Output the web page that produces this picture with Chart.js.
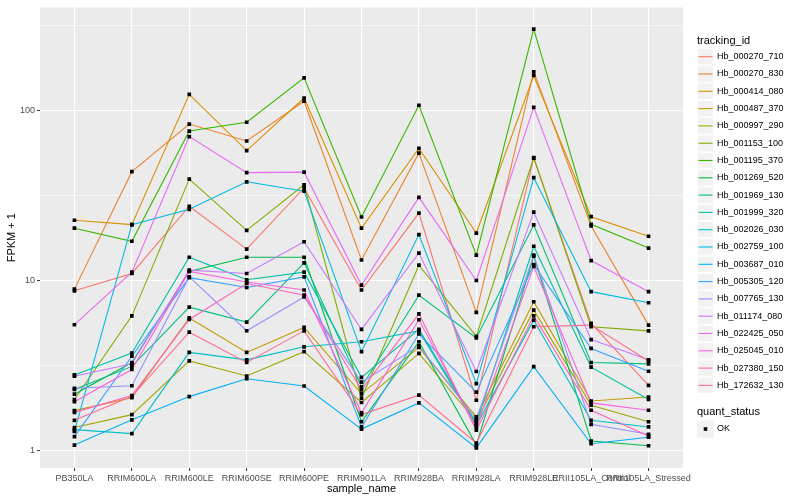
<!DOCTYPE html>
<html>
<head>
<meta charset="utf-8">
<script src="https://cdn.jsdelivr.net/npm/chart.js@4/dist/chart.umd.min.js"></script>
<style>
html,body{margin:0;padding:0;background:#fff;}
#wrap{width:800px;height:500px;position:relative;}
</style>
</head>
<body>
<div id="wrap"><canvas id="c" width="800" height="500"></canvas></div>
<script>
const categories = ['PB350LA','RRIM600LA','RRIM600LE','RRIM600SE','RRIM600PE','RRIM901LA','RRIM928BA','RRIM928LA','RRIM928LE','RRII105LA_Control','RRII105LA_Stressed'];

const seriesNames = ['Hb_000270_710','Hb_000270_830','Hb_000414_080','Hb_000487_370','Hb_000997_290','Hb_001153_100','Hb_001195_370','Hb_001269_520','Hb_001969_130','Hb_001999_320','Hb_002026_030','Hb_002759_100','Hb_003687_010','Hb_005305_120','Hb_007765_130','Hb_011174_080','Hb_022425_050','Hb_025045_010','Hb_027380_150','Hb_172632_130'];

const hb_000270_710 = [8.7, 11.0, 27.3, 15.3, 35, 8.8, 24.9, 1.98, 52.4, 5.6, 2.42];
const hb_000270_830 = [8.9, 43.6, 83, 66, 113, 13.2, 56, 6.5, 168, 20.9, 5.47];
const hb_000414_080 = [22.6, 21.3, 124, 58, 118, 20.3, 59.7, 19, 160, 23.7, 18.2];
const hb_000487_370 = [1.72, 2.05, 6.03, 3.78, 5.3, 2.16, 4.05, 1.58, 7.5, 1.96, 2.07];
const hb_000997_290 = [1.37, 1.63, 3.37, 2.75, 3.82, 1.92, 3.73, 1.49, 6.7, 1.85, 1.48];
const hb_001153_100 = [2.0, 6.2, 39.4, 19.7, 36.5, 2.04, 12.3, 4.7, 52.7, 5.35, 5.06];
const hb_001195_370 = [20.3, 17.0, 75.5, 85, 155, 23.6, 107, 14.1, 300, 21.4, 15.5];
const hb_001269_520 = [2.15, 3.30, 11.3, 13.7, 13.7, 1.48, 4.37, 1.08, 13.9, 1.14, 1.07];
const hb_001969_130 = [2.29, 3.13, 6.97, 5.7, 12.7, 2.37, 8.2, 4.6, 21.2, 3.3, 3.24];
const hb_001999_320 = [2.79, 3.75, 13.7, 10.1, 11.2, 2.7, 5.16, 1.45, 15.9, 3.1, 2.0];
const hb_002026_030 = [1.33, 1.26, 3.78, 3.42, 4.08, 4.37, 5.06, 1.41, 5.85, 1.51, 1.38];
const hb_002759_100 = [1.30, 21.3, 26.2, 38, 33.5, 3.82, 18.6, 2.48, 40.2, 8.6, 7.4];
const hb_003687_010 = [1.08, 1.52, 2.08, 2.65, 2.4, 1.34, 1.91, 1.04, 3.12, 1.10, 1.2];
const hb_005305_120 = [1.21, 3.59, 10.4, 9.1, 10.5, 1.38, 4.85, 2.21, 12.4, 3.99, 2.93];
const hb_007765_130 = [2.33, 2.41, 10.5, 5.07, 8.0, 2.53, 4.13, 1.53, 14.1, 1.43, 1.25];
const hb_011174_080 = [2.74, 3.24, 11.5, 11.0, 16.9, 5.16, 14.5, 2.92, 25.2, 4.5, 3.42];
const hb_022425_050 = [5.5, 11.2, 70, 43, 43.3, 9.4, 30.8, 10.0, 104, 13.1, 8.6];
const hb_025045_010 = [1.94, 3.0, 11.3, 9.8, 8.8, 1.67, 5.88, 1.37, 12.1, 1.91, 1.73];
const hb_027380_150 = [1.68, 2.11, 5.9, 9.6, 8.2, 2.28, 6.37, 1.32, 6.2, 1.73, 1.22];
const hb_172632_130 = [1.51, 2.09, 4.97, 3.3, 5.06, 1.63, 2.12, 1.11, 5.35, 5.47, 3.37];

const seriesValues = [hb_000270_710, hb_000270_830, hb_000414_080, hb_000487_370, hb_000997_290, hb_001153_100, hb_001195_370, hb_001269_520, hb_001969_130, hb_001999_320, hb_002026_030, hb_002759_100, hb_003687_010, hb_005305_120, hb_007765_130, hb_011174_080, hb_022425_050, hb_025045_010, hb_027380_150, hb_172632_130];

const seriesColors = ['#F8766D','#EA8331','#D89000','#C09B00','#A3A500','#7CAE00','#39B600','#00BB4E','#00BF7D','#00C1A3','#00BFC4','#00BAE0','#00B0F6','#35A2FF','#9590FF','#C77CFF','#E76BF3','#FA62DB','#FF62BC','#FF6C91'];

const yTickValues = [1, 10, 100];
const yMinorValues = [3.162, 31.62, 316.2];
const yGridValues = [1, 3.162, 10, 31.62, 100, 316.2];

const FONT = '"Liberation Sans", Arial, Helvetica, sans-serif';

const datasets = [];
// points layer (drawn on top of all lines)
const pts = [];
seriesValues.forEach(arr => arr.forEach((v, i) => pts.push({x: i, y: v})));
datasets.push({
  label: 'points', data: pts, showLine: false, order: 0,
  pointStyle: 'rect', pointRadius: 2.6, pointBackgroundColor: '#000', pointBorderWidth: 0,
  borderColor: '#000', backgroundColor: '#000'
});
seriesValues.forEach((arr, s) => {
  datasets.push({
    label: seriesNames[s],
    data: arr.map((v, i) => ({x: i, y: v})),
    borderColor: seriesColors[s],
    backgroundColor: seriesColors[s],
    borderWidth: 1.1,
    pointRadius: 0,
    tension: 0,
    fill: false,
    order: seriesValues.length - s
  });
});

const decor = {
  id: 'decor',
  beforeDraw(chart) {
    const {ctx, chartArea: a} = chart;
    ctx.save();
    ctx.fillStyle = '#FFFFFF';
    ctx.fillRect(0, 0, chart.width, chart.height);
    ctx.fillStyle = '#EBEBEB';
    ctx.fillRect(a.left, a.top, a.right - a.left, a.bottom - a.top);
    ctx.restore();
  },
  afterDraw(chart) {
    const {ctx, chartArea: a} = chart;
    ctx.save();
    // axis titles
    ctx.fillStyle = '#000';
    ctx.font = '11px ' + FONT;
    ctx.textAlign = 'center';
    ctx.textBaseline = 'middle';
    ctx.fillText('sample_name', (a.left + a.right) / 2, 489);
    ctx.save();
    ctx.translate(12, (a.top + a.bottom) / 2);
    ctx.rotate(-Math.PI / 2);
    ctx.fillText('FPKM + 1', 0, 0);
    ctx.restore();
    // legend
    const kx = 697, kw = 17, kh = 17.3;
    ctx.textAlign = 'left';
    ctx.font = '11px ' + FONT;
    ctx.fillText('tracking_id', kx, 40.5);
    ctx.font = '9px ' + FONT;
    seriesNames.forEach((n, i) => {
      const cy = 56.7 + kh * i;
      ctx.fillStyle = '#F2F2F2';
      ctx.fillRect(kx, cy - kh / 2, kw, kh);
      ctx.strokeStyle = '#FFFFFF';
      ctx.lineWidth = 1;
      ctx.strokeRect(kx + 0.5, cy - kh / 2 + 0.5, kw - 1, kh - 1);
      ctx.strokeStyle = seriesColors[i];
      ctx.lineWidth = 1.1;
      ctx.beginPath();
      ctx.moveTo(kx + 1.5, cy);
      ctx.lineTo(kx + kw - 1.5, cy);
      ctx.stroke();
      ctx.fillStyle = '#000';
      ctx.fillText(n, 717, cy);
    });
    ctx.font = '11px ' + FONT;
    ctx.fillText('quant_status', kx, 412);
    const oy = 429;
    ctx.fillStyle = '#F2F2F2';
    ctx.fillRect(kx, oy - kh / 2, kw, kh);
    ctx.fillStyle = '#000';
    ctx.fillRect(kx + kw / 2 - 1.8, oy - 1.8, 3.6, 3.6);
    ctx.font = '9px ' + FONT;
    ctx.fillText('OK', 717, oy);
    ctx.restore();
  }
};

new Chart(document.getElementById('c'), {
  type: 'line',
  data: { datasets },
  options: {
    responsive: false,
    animation: false,
    devicePixelRatio: 1,
    layout: { padding: { top: 5, right: 117, left: 0, bottom: 0 } },
    plugins: { legend: { display: false }, tooltip: { enabled: false } },
    scales: {
      x: {
        type: 'linear',
        min: -0.6, max: 10.6,
        afterBuildTicks(scale) { scale.ticks = categories.map((c, i) => ({ value: i })); },
        afterFit(scale) { scale.height = 32; },
        border: { display: false },
        grid: { color: '#FFFFFF', lineWidth: 1.1, tickColor: '#333333', tickLength: 3, tickWidth: 1 },
        ticks: {
          autoSkip: false, maxRotation: 0, minRotation: 0, padding: 2,
          color: '#4D4D4D', font: { family: FONT, size: 9 },
          callback: (v) => categories[v]
        }
      },
      y: {
        type: 'logarithmic',
        min: 0.792, max: 402,
        afterBuildTicks(scale) { scale.ticks = yGridValues.map(v => ({ value: v })); },
        afterFit(scale) { scale.width = 40; },
        border: { display: false },
        grid: {
          color: '#FFFFFF',
          lineWidth: (ctx) => (ctx.tick && yTickValues.includes(ctx.tick.value)) ? 1.1 : 0.55,
          tickColor: (ctx) => (ctx.tick && yTickValues.includes(ctx.tick.value)) ? '#333333' : 'rgba(0,0,0,0)',
          tickLength: 3, tickWidth: 1
        },
        ticks: {
          autoSkip: false, padding: 2,
          color: '#4D4D4D', font: { family: FONT, size: 9 },
          callback: (v) => yTickValues.includes(v) ? String(v) : ''
        }
      }
    }
  },
  plugins: [decor]
});
</script>
</body>
</html>
